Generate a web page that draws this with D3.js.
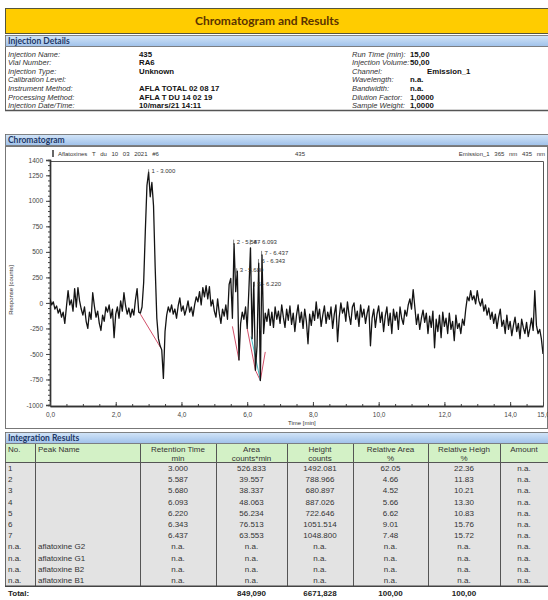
<!DOCTYPE html>
<html>
<head>
<meta charset="utf-8">
<script src="https://cdn.jsdelivr.net/npm/d3@7"></script>
<style>
    body { margin: 0; background: #fff; }
    svg text { font-family: "Liberation Sans", Arial, sans-serif; }
</style>
</head>
<body>
<div id="report"></div>
<script>
// detector trace, one reading every 0.05 min from 0 to 15 min (counts)
var traceStep = 0.05;
var traceCounts = [
    40, -20, 10, -60, -30, -100, -60, -140, -90, -200,
    -40, 120, -20, 30, -80, 140, -40, 150, 20, -60,
    -120, -40, -180, -250, -90, -160, 100, -30, -140, -80,
    -200, -270, -120, -180, -40, -90, -20, -150, -60, -340,
    -110, -40, -150, 20, -80, 100, -30, -110, -50, -140,
    -60, -120, 30, 140, -90, -100, -40, 200, 700, 1150,
    1280, 1040, 1180, 950, 350, -150, -350, -420, -460, -740,
    -280, -120, -40, -90, -20, -110, -60, -150, -30, 50,
    -80, -30, -120, -60, 20, -90, -40, -130, -20, 60,
    10, 110, -20, 150, 60, 170, 40, 160, -30, 30,
    -80, -140, 40, -100, -200, -60, -130, -20, -160, 180,
    240, -150, 580, 110, 310, -560, -200, -90, -160, -40,
    -250, 120, 540, -350, 200, -660, -420, 390, -760, 470,
    -300, -100, -180, -60, -220, -90, -240, -40, -160, -80,
    -200, -20, -140, -240, -60, -170, -30, -210, -100, -280,
    -120, -20, -190, -90, -250, -60, -180, -400, -110, -220,
    -80, -170, 10, -150, -60, -230, -120, -30, -200, -90,
    -160, -40, -250, -110, -20, -380, -140, 0, -100, -50,
    -180, 10, -120, -210, -40, 0, -160, -80, -230, -20,
    -140, -60, -200, -100, -30, -420, -150, -60, -240, -110,
    -30, -190, -90, -280, -130, -40, -220, -100, -300, -60,
    -170, -90, -260, -40, -150, -210, -70, -130, -20, 40,
    -60, 130, -40, -210, -110, -260, -150, -70, -190, -100,
    -300, -130, -240, -80, -440, -160, -280, -120, -340, -90,
    -230, -150, -300, -100, -260, -180, -370, -120, -250, -200,
    -300, -160, -220, -60, 60, 20, 120, 30, 70, -10,
    120, 20, -30, 40, -80, -20, -120, -50, -160, -90,
    -200, -110, -250, -140, -60, -230, -170, -300, -120, -260,
    -180, -320, -220, -140, -280, -200, -350, -160, -240, -300,
    -190, -330, -250, -150, -270, 120, -220, -300, -260, -350,
    -500
];

// peak marks: retention time and height of the label
var peakNumbers = ["1", "2", "3", "4", "5", "6", "7"];
var retentionTimes = ["3.000", "5.587", "5.680", "6.093", "6.220", "6.343", "6.437"];
var peakLabelLevels = [1290, 600, 320, 600, 190, 410, 490];

// integration baselines [t1, counts1, t2, counts2, kind]
var baselines = [
    [2.75, -110, 3.37, -440, "main"],
    [5.55, -230, 5.75, -560, "main"],
    [6.00, -250, 6.25, -660, "main"],
    [6.25, -660, 6.40, -760, "main"],
    [6.12, -330, 6.40, -760, "alt"],
    [6.40, -760, 6.55, -480, "main"]
];

var yTickValues = [1400, 1250, 1000, 750, 500, 250, 0, -250, -500, -750, -1000];
var xTickValues = [0, 2, 4, 6, 8, 10, 12, 14, 15];

var injectionLabels = ["Injection Name:", "Vial Number:", "Injection Type:", "Calibration Level:",
    "Instrument Method:", "Processing Method:", "Injection Date/Time:"];
var injectionValues = ["435", "RA6", "Unknown", "", "AFLA TOTAL 02 08 17", "AFLA T DU 14 02 19", "10/mars/21 14:11"];
var runLabels = ["Run Time (min):", "Injection Volume:", "Channel:", "Wavelength:", "Bandwidth:",
    "Dilution Factor:", "Sample Weight:"];
var runValues = ["15,00", "50,00", "Emission_1", "n.a.", "n.a.", "1,0000", "1,0000"];

var areas = ["526.833", "39.557", "38.337", "48.063", "56.234", "76.513", "63.553"];
var heights = ["1492.081", "788.966", "680.897", "887.026", "722.646", "1051.514", "1048.800"];
var relAreas = ["62.05", "4.66", "4.52", "5.66", "6.62", "9.01", "7.48"];
var relHeights = ["22.36", "11.83", "10.21", "13.30", "10.83", "15.76", "15.72"];
var namedPeaks = ["aflatoxine G2", "aflatoxine G1", "aflatoxine B2", "aflatoxine B1"];
var totals = ["Total:", "", "", "849,090", "6671,828", "100,00", "100,00", ""];

var headerTop = ["No.", "Peak Name", "Retention Time", "Area", "Height", "Relative Area", "Relative Heigh", "Amount"];
var headerUnit = ["", "", "min", "counts*min", "counts", "%", "%", ""];

var svg = d3.select("#report").append("svg")
    .attr("width", 548)
    .attr("height", 600);

var defs = svg.append("defs");
var grad = defs.append("linearGradient").attr("id", "band").attr("x1", 0).attr("y1", 0).attr("x2", 0).attr("y2", 1);
grad.append("stop").attr("offset", "0%").attr("stop-color", "#d3e5f8");
grad.append("stop").attr("offset", "100%").attr("stop-color", "#9fc1ea");
defs.append("clipPath").attr("id", "plotClip").append("rect")
    .attr("x", 50).attr("y", 161).attr("width", 493).attr("height", 245);

// title bar
svg.append("rect")
    .attr("x", 5.5).attr("y", 8.5).attr("width", 543).attr("height", 25)
    .attr("fill", "#ffcc00").attr("stroke", "#55553a");
svg.append("text")
    .attr("x", 267).attr("y", 25)
    .attr("text-anchor", "middle")
    .style("font-family", "Lato, 'Open Sans', sans-serif")
    .style("font-weight", "bold").style("font-size", "12px")
    .attr("fill", "#5a3300")
    .text("Chromatogram and Results");

function sectionBand(y, label) {
    svg.append("rect")
        .attr("x", 5.5).attr("y", y + 0.5).attr("width", 543).attr("height", 11)
        .attr("fill", "url(#band)").attr("stroke", "#666").attr("stroke-width", 0.8);
    svg.append("text")
        .attr("x", 8).attr("y", y + 9)
        .style("font-family", "Lato, 'Open Sans', sans-serif")
        .style("font-weight", "bold").style("font-size", "8.5px")
        .attr("fill", "#1d3867")
        .text(label);
}

// injection details
sectionBand(35, "Injection Details");
svg.append("line").attr("x1", 5.5).attr("x2", 5.5).attr("y1", 47).attr("y2", 111).attr("stroke", "#666");
svg.append("line").attr("x1", 5).attr("x2", 548).attr("y1", 110.5).attr("y2", 110.5).attr("stroke", "#555").attr("stroke-width", 1.5);

function detailColumn(labels, values, xLabel, xValue) {
    labels.forEach(function(label, i) {
        var y = 56.5 + i * 8.6;
        svg.append("text").attr("x", xLabel).attr("y", y)
            .style("font-style", "italic").style("font-size", "7.5px").attr("fill", "#333")
            .text(label);
        svg.append("text").attr("x", typeof xValue === "function" ? xValue(i) : xValue).attr("y", y)
            .style("font-weight", "bold").style("font-size", "7.8px").attr("fill", "#111")
            .text(values[i]);
    });
}
detailColumn(injectionLabels, injectionValues, 8, 139);
detailColumn(runLabels, runValues, 352, function(i) { return i === 2 ? 427 : 410; });

// chromatogram
sectionBand(134, "Chromatogram");
svg.append("rect").attr("x", 5.5).attr("y", 146.5).attr("width", 542).attr("height", 282)
    .attr("fill", "#fff").attr("stroke", "#777");

var xScale = d3.scaleLinear().domain([0, 15]).range([50, 543]);
var yScale = d3.scaleLinear().domain([-1000, 1400]).range([405, 160]);

var stripFont = "6px";
svg.append("rect").attr("x", 52).attr("y", 150).attr("width", 2).attr("height", 7).attr("fill", "#666");
svg.append("text").attr("x", 58).attr("y", 156).style("font-size", stripFont).style("word-spacing", "3px")
    .attr("fill", "#333").text("Aflatoxines T du 10 03 2021 #6");
svg.append("text").attr("x", 300).attr("y", 156).style("font-size", stripFont).attr("text-anchor", "middle")
    .attr("fill", "#333").text("435");
svg.append("text").attr("x", 545).attr("y", 156).style("font-size", stripFont).style("word-spacing", "3px")
    .attr("text-anchor", "end").attr("fill", "#333").text("Emission_1 365 nm 435 nm");

// plot frame
svg.append("line").attr("x1", 50).attr("x2", 543.5).attr("y1", 161.5).attr("y2", 161.5).attr("stroke", "#555");
svg.append("line").attr("x1", 543.5).attr("x2", 543.5).attr("y1", 161.5).attr("y2", 406).attr("stroke", "#555");

var yMinor = svg.append("g").attr("transform", "translate(50,0)")
    .call(d3.axisLeft(yScale).tickValues(d3.range(-1000, 1401, 50)).tickSize(2).tickFormat(""));
var yAxis = svg.append("g").attr("transform", "translate(50,0)")
    .call(d3.axisLeft(yScale).tickValues(yTickValues).tickSize(4).tickPadding(3)
        .tickFormat(function(d) { return String(d); }));
var xMinor = svg.append("g").attr("transform", "translate(0,406)")
    .call(d3.axisBottom(xScale).tickValues(d3.range(0, 15.01, 0.5)).tickSizeInner(-2).tickSizeOuter(0).tickFormat(""));
var xAxis = svg.append("g").attr("transform", "translate(0,406)")
    .call(d3.axisBottom(xScale).tickValues(xTickValues).tickSizeInner(-4).tickSizeOuter(0).tickPadding(6)
        .tickFormat(function(d) { return d.toFixed(1).replace(".", ","); }));

[yMinor, yAxis, xMinor, xAxis].forEach(function(g) {
    g.selectAll("path").attr("stroke", "#333").attr("stroke-width", 1.4);
    g.selectAll("line").attr("stroke", "#444");
    g.selectAll("text").style("font-size", "6.5px").attr("fill", "#444")
        .style("font-family", "'Liberation Sans', Arial, sans-serif");
});

svg.append("text")
    .attr("transform", "translate(13,290) rotate(-90)")
    .attr("text-anchor", "middle").style("font-size", "6px").attr("fill", "#333")
    .text("Response [counts]");
svg.append("text").attr("x", 288).attr("y", 425)
    .style("font-size", "6px").attr("fill", "#333").text("Time [min]");

var plot = svg.append("g").attr("clip-path", "url(#plotClip)");

plot.selectAll("line.base")
    .data(baselines)
    .enter()
    .append("line").attr("class", "base")
    .attr("x1", function(d) { return xScale(d[0]); })
    .attr("y1", function(d) { return yScale(d[1]); })
    .attr("x2", function(d) { return xScale(d[2]); })
    .attr("y2", function(d) { return yScale(d[3]); })
    .attr("stroke", function(d) { return d[4] === "main" ? "#d2506a" : "#3fb8c4"; })
    .attr("stroke-width", 1);

var trace = d3.line()
    .x(function(d, i) { return xScale(i * traceStep); })
    .y(function(d) { return yScale(d); });

plot.append("path")
    .datum(traceCounts)
    .attr("d", trace)
    .attr("fill", "none")
    .attr("stroke", "#141414")
    .attr("stroke-width", 1.3)
    .attr("stroke-linejoin", "round");

// peak annotations
var marks = svg.selectAll("g.peak")
    .data(retentionTimes)
    .enter()
    .append("g").attr("class", "peak")
    .attr("transform", function(d, i) {
        return "translate(" + xScale(+d) + "," + yScale(peakLabelLevels[i]) + ")";
    });
marks.append("line").attr("x1", 0).attr("x2", 0).attr("y1", -2).attr("y2", 3).attr("stroke", "#333").attr("stroke-width", 0.6);
marks.append("text").attr("x", 3).attr("y", 2)
    .style("font-size", "6px").attr("fill", "#333")
    .text(function(d, i) { return peakNumbers[i] + " - " + d; });

// integration results table
sectionBand(432, "Integration Results");

var colEdges = [5, 35, 140, 216, 287, 353, 428, 500, 548];
var headY = 444, headH = 19, rowTop = 463, rowH = 11.2;

var rows = [];
retentionTimes.forEach(function(t, i) {
    rows.push([peakNumbers[i], "", t, areas[i], heights[i], relAreas[i], relHeights[i], "n.a."]);
});
namedPeaks.forEach(function(name) {
    rows.push(["n.a.", name, "n.a.", "n.a.", "n.a.", "n.a.", "n.a.", "n.a."]);
});
var rowsBottom = rowTop + rows.length * rowH;

svg.append("rect").attr("x", 5).attr("y", headY).attr("width", 543).attr("height", headH).attr("fill", "#d3f1c6");
svg.append("rect").attr("x", 5).attr("y", rowTop).attr("width", 543).attr("height", rowsBottom - rowTop).attr("fill", "#e3e3e3");

colEdges.slice(0, -1).forEach(function(x, i) {
    svg.append("line").attr("x1", x + 0.5).attr("x2", x + 0.5).attr("y1", headY).attr("y2", rowsBottom)
        .attr("stroke", i === 0 ? "#666" : "#555").attr("stroke-width", 1);
});
svg.append("line").attr("x1", 5).attr("x2", 548).attr("y1", rowTop - 0.5).attr("y2", rowTop - 0.5).attr("stroke", "#555").attr("stroke-width", 1.2);
svg.append("line").attr("x1", 5).attr("x2", 548).attr("y1", rowsBottom).attr("y2", rowsBottom).attr("stroke", "#444").attr("stroke-width", 1.5);

function cellX(c) {
    return c < 2 ? colEdges[c] + 3 : (colEdges[c] + colEdges[c + 1]) / 2;
}

headerTop.forEach(function(h, c) {
    svg.append("text").attr("x", cellX(c)).attr("y", headY + 8)
        .attr("text-anchor", c < 2 ? "start" : "middle")
        .style("font-size", "8px").attr("fill", "#333").text(h);
    if (headerUnit[c]) {
        svg.append("text").attr("x", cellX(c)).attr("y", headY + 17)
            .attr("text-anchor", "middle")
            .style("font-size", "8px").attr("fill", "#333").text(headerUnit[c]);
    }
});

rows.forEach(function(r, ri) {
    r.forEach(function(v, c) {
        svg.append("text").attr("x", cellX(c)).attr("y", rowTop + ri * rowH + 8)
            .attr("text-anchor", c < 2 ? "start" : "middle")
            .style("font-size", "8px").attr("fill", "#333").text(v);
    });
});

totals.forEach(function(v, c) {
    if (!v) return;
    svg.append("text").attr("x", cellX(c)).attr("y", 596)
        .attr("text-anchor", c < 2 ? "start" : "middle")
        .style("font-size", "8px").style("font-weight", "bold").attr("fill", "#222").text(v);
});
</script>
</body>
</html>
